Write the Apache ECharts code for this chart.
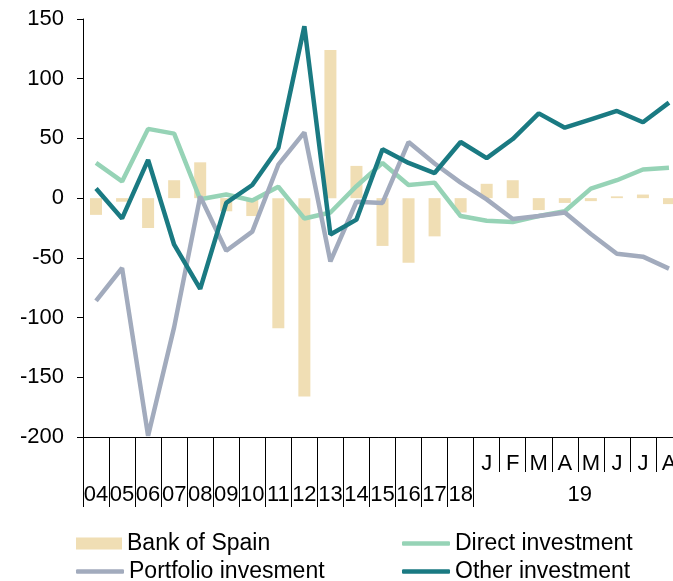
<!DOCTYPE html>
<html>
<head>
<meta charset="utf-8">
<script src="https://cdn.jsdelivr.net/npm/echarts@6/dist/echarts.min.js"></script>
<style>
  html, body { margin: 0; padding: 0; background: #fff; }
  #chart { width: 673px; height: 581px; }
</style>
</head>
<body>
<div id="chart"></div>
<script>
// Periods: annual 2004-2018, then monthly Jan-Aug 2019
const categories = ['04','05','06','07','08','09','10','11','12','13','14','15','16','17','18',
                    'J','F','M','A','M','J','J','A'];
const yearLabels = ['04','05','06','07','08','09','10','11','12','13','14','15','16','17','18',
                    '','','','19','','','',''];
const monthLabels = ['','','','','','','','','','','','','','','',
                     'J','F','M','A','M','J','J','A'];

const bankOfSpain = [-14, -3, -25, 15, 30, -11, -15, -109, -166, 124, 27, -40, -54, -32, -12,
                     12, 15, -10, -4, -2.5, 1.5, 3, -5];
const directInvestment = [29.5, 14, 58, 54, -1, 3, -2, 9.5, -17, -12, 10, 29.5, 11, 13, -15,
                          -19, -20, -15, -11, 8, 15, 24, 25.5];
const portfolioInvestment = [-86, -58.5, -199, -108, 1.5, -44, -28, 28, 55, -53, -3, -4, 47, 29, 13,
                             -1, -17.5, -15, -12, -30, -46.5, -49, -59];
const otherInvestment = [8, -17, 32, -39, -76, -4, 11, 42, 144, -30.5, -18, 41, 29.5, 21, 47,
                         33.5, 49.5, 71, 59, 66, 73, 63.5, 80];

const FONT = "'Liberation Sans', Arial, sans-serif";
const AXIS_FONT_SIZE = 22;
const LEGEND_FONT_SIZE = 23;
const nYearTicks = 16; // boundaries 0..15 get the long year ticks

const COLORS = {
  bank: '#F0DEB4',
  direct: '#96D3B6',
  portfolio: '#A2ABBD',
  other: '#1A7A82'
};

function legendFor(name, left, top, isLine) {
  return {
    data: [{ name: name, icon: isLine ? 'roundRect' : 'rect' }],
    left: left, top: top,
    itemWidth: isLine ? 48 : 46, itemHeight: isLine ? 4.5 : 12, itemGap: 0,
    textStyle: { fontFamily: FONT, fontSize: LEGEND_FONT_SIZE, color: '#000' },
    selectedMode: false
  };
}

const chart = echarts.init(document.getElementById('chart'), null, { renderer: 'canvas' });

const option = {
  animation: false,
  backgroundColor: '#ffffff',
  textStyle: { fontFamily: FONT, color: '#000' },
  grid: { left: 83, top: 19, width: 599, height: 418, containLabel: false, outerBoundsMode: 'none' },
  legend: [
    legendFor('Bank of Spain', 71, 527, false),
    legendFor('Portfolio invesment', 71, 555, true),
    legendFor('Direct investment', 397, 527, true),
    legendFor('Other investment', 397, 555, true)
  ],
  xAxis: [
    {
      type: 'category',
      data: categories,
      position: 'bottom',
      boundaryGap: true,
      axisLine: { onZero: false, lineStyle: { color: '#000', width: 1 } },
      axisTick: {
        show: true, length: 70,
        interval: function (idx) { return idx < nYearTicks; },
        lineStyle: { color: '#000', width: 1 }
      },
      axisLabel: {
        interval: 0, margin: 47,
        fontFamily: FONT, fontSize: AXIS_FONT_SIZE, color: '#000',
        formatter: function (v, i) {
          const t = yearLabels[i];
          if (t === '') return '';
          return i >= 15 ? '{s|' + t + '}' : t;
        },
        rich: { s: { fontFamily: FONT, fontSize: AXIS_FONT_SIZE, color: '#000', padding: [0, 0, 0, 30] } }
      },
      splitLine: { show: false }
    },
    {
      type: 'category',
      data: categories,
      position: 'bottom',
      gridIndex: 0,
      boundaryGap: true,
      axisLine: { onZero: false, lineStyle: { color: '#000', width: 1 } },
      axisTick: { show: true, length: 35, interval: 0, lineStyle: { color: '#000', width: 1 } },
      axisLabel: {
        interval: 0, margin: 16,
        fontFamily: FONT, fontSize: AXIS_FONT_SIZE, color: '#000',
        formatter: function (v, i) { return monthLabels[i]; }
      },
      splitLine: { show: false }
    }
  ],
  yAxis: {
    type: 'value',
    min: -200, max: 150, interval: 50,
    axisLine: { show: true, lineStyle: { color: '#000', width: 1 } },
    axisTick: { show: true, inside: false, length: 6, lineStyle: { color: '#000' } },
    axisLabel: { margin: 19, fontFamily: FONT, fontSize: AXIS_FONT_SIZE, color: '#000' },
    splitLine: { show: false }
  },
  series: [
    {
      name: 'Bank of Spain',
      type: 'bar',
      data: bankOfSpain,
      barWidth: 12,
      itemStyle: { color: COLORS.bank },
      z: 1
    },
    {
      name: 'Direct investment',
      type: 'line',
      data: directInvestment,
      symbol: 'none',
      lineStyle: { color: COLORS.direct, width: 4.5 },
      itemStyle: { color: COLORS.direct },
      z: 2
    },
    {
      name: 'Portfolio invesment',
      type: 'line',
      data: portfolioInvestment,
      symbol: 'none',
      lineStyle: { color: COLORS.portfolio, width: 4.5 },
      itemStyle: { color: COLORS.portfolio },
      z: 3
    },
    {
      name: 'Other investment',
      type: 'line',
      data: otherInvestment,
      symbol: 'none',
      lineStyle: { color: COLORS.other, width: 4.5 },
      itemStyle: { color: COLORS.other },
      z: 4
    }
  ]
};

chart.setOption(option);
</script>
</body>
</html>
